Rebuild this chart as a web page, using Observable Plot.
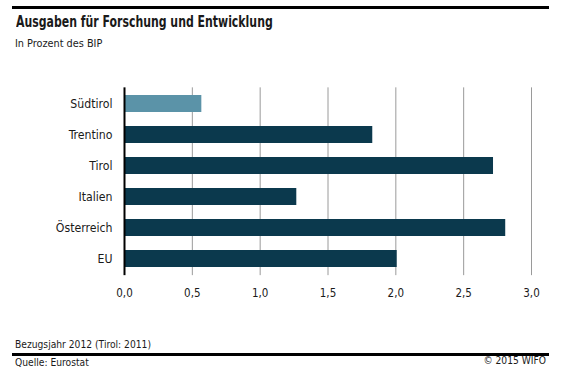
<!DOCTYPE html>
<html>
<head>
<meta charset="utf-8">
<script src="https://cdn.jsdelivr.net/npm/d3@7"></script>
<script src="https://cdn.jsdelivr.net/npm/@observablehq/plot@0.6"></script>
<style>
  html, body { margin: 0; padding: 0; background: #fff; }
  body { width: 577px; height: 379px; position: relative; overflow: hidden;
         font-family: "Liberation Sans Narrow", "DejaVu Sans Condensed", "Roboto", sans-serif; color: #1a1a1a; }
  .rule { position: absolute; left: 12px; width: 537px; height: 2.5px; background: #000; }
  .t { position: absolute; line-height: 1; white-space: nowrap; }
  .title { left: 16px; top: 15.3px; font-size: 15px; font-weight: bold; transform: scaleX(0.81); transform-origin: 0 0; }
  .subtitle { left: 15px; top: 38.7px; font-size: 10.8px; }
  .note { left: 15px; font-size: 10.2px; }
  .copy { right: 31px; font-size: 10.2px; }
  #chart { position: absolute; left: 0; top: 80px; }
</style>
</head>
<body>
<div class="rule" style="top:6px"></div>
<div class="t title">Ausgaben für Forschung und Entwicklung</div>
<div class="t subtitle">In Prozent des BIP</div>
<div id="chart"></div>
<div class="t note" style="top:340.4px">Bezugsjahr 2012 (Tirol: 2011)</div>
<div class="rule" style="top:353px"></div>
<div class="t note" style="top:358.4px">Quelle: Eurostat</div>
<div class="t copy" style="top:356.4px">© 2015 WIFO</div>
<script>
const regions = ["Südtirol", "Trentino", "Tirol", "Italien", "Österreich", "EU"];
const values = [0.57, 1.83, 2.72, 1.27, 2.81, 2.01];
const highlight = ["Südtirol"];
const xTicks = [0, 0.5, 1, 1.5, 2, 2.5, 3];
const gridTicks = [0.5, 1, 1.5, 2, 2.5, 3];

const data = regions.map((r, i) => ({region: r, value: values[i]}));
const fmt = d => d3.format(".1f")(d).replace(".", ",");

const chart = Plot.plot({
  width: 577,
  height: 230,
  marginLeft: 124,
  marginRight: 46,
  marginTop: 7.35,
  marginBottom: 34.85,
  style: {fontFamily: '"Liberation Sans Narrow", "DejaVu Sans Condensed", sans-serif', fontSize: "12px", color: "#1a1a1a", background: "#fff"},
  x: {domain: [0, 3], axis: null},
  y: {domain: regions, paddingInner: 0.455, paddingOuter: 0.2275, axis: null},
  marks: [
    Plot.ruleX(gridTicks, {stroke: "#9a9a9a", strokeWidth: 1, strokeOpacity: 1}),
    Plot.barX(data, {
      y: "region", x: "value",
      fill: d => highlight.includes(d.region) ? "#5b93a8" : "#0b394d"
    }),
    Plot.ruleX([0], {stroke: "#000", strokeWidth: 2}),
    Plot.axisX(xTicks, {tickSize: 0, tickPadding: 13, tickFormat: fmt, fontSize: 11.5, label: null}),
    Plot.axisY({tickSize: 0, tickPadding: 12, fontSize: 12.2, label: null})
  ]
});
document.getElementById("chart").appendChild(chart);
</script>
</body>
</html>
